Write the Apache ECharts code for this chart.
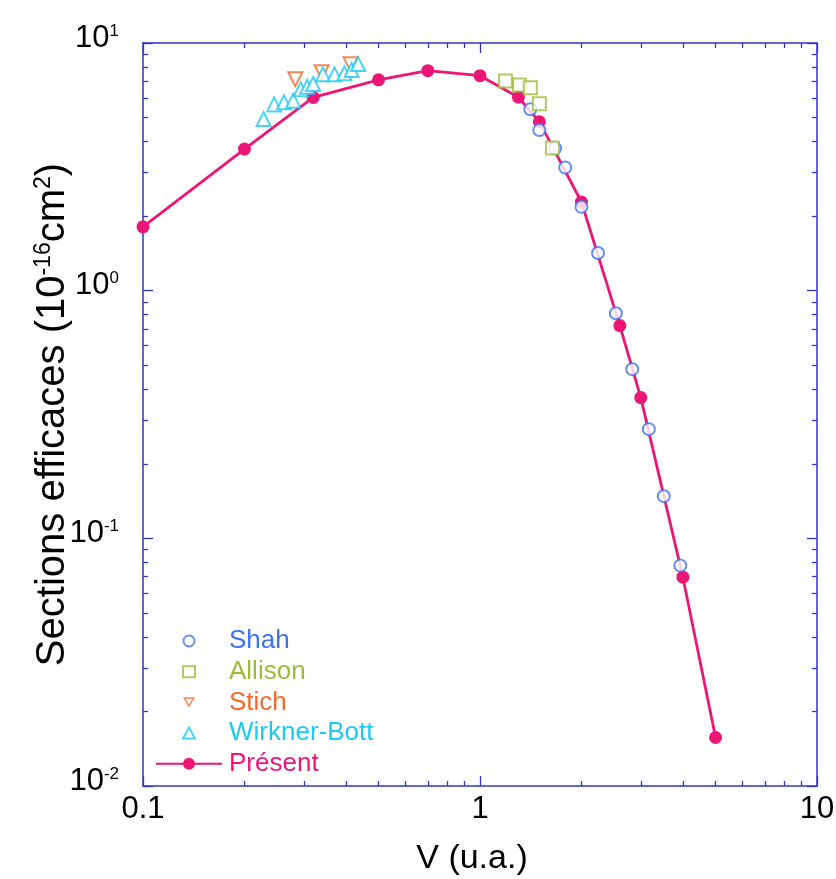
<!DOCTYPE html>
<html>
<head>
<meta charset="utf-8">
<script src="https://cdn.jsdelivr.net/npm/echarts@6/dist/echarts.min.js"></script>
<style>html,body{margin:0;padding:0;background:#fff;}#c{width:836px;height:879px;}</style>
</head>
<body>
<div id="c"></div>
<script>
// ---- data (V in u.a., cross sections in 1e-16 cm^2) ----
const presentV = [0.1, 0.2, 0.32, 0.5, 0.7, 1.0, 1.3, 1.5, 2.0, 2.6, 3.0, 4.0, 5.0];
const presentS = [1.81, 3.73, 6.03, 7.1, 7.73, 7.38, 6.04, 4.81, 2.28, 0.723, 0.370, 0.0697, 0.0157];

const shahV = [1.41, 1.50, 1.67, 1.79, 2.0, 2.24, 2.53, 2.83, 3.17, 3.51, 3.93];
const shahS = [5.40, 4.45, 3.76, 3.14, 2.18, 1.42, 0.811, 0.482, 0.276, 0.148, 0.0776];

const allisonV = [1.19, 1.31, 1.41, 1.50, 1.64];
const allisonS = [7.03, 6.77, 6.60, 5.69, 3.77];

const stichV = [0.283, 0.339, 0.413];
const stichS = [7.14, 7.62, 8.20];

const wirknerV = [0.228, 0.245, 0.262, 0.279, 0.294, 0.307, 0.320, 0.342, 0.370, 0.396, 0.416, 0.435];
const wirknerS = [4.93, 5.65, 5.76, 5.85, 6.50, 6.66, 6.83, 7.47, 7.47, 7.54, 7.78, 8.22];

const scatterNames = ['Shah', 'Allison', 'Stich', 'Wirkner-Bott'];
const lineName = 'Présent';
const seriesColors = ['#3d73ea', '#9dbb3a', '#f26a2a', '#1ec8f5', '#ec1677'];

const xMin = 0.1, xMax = 10, yMin = 0.01, yMax = 10;

function pairs(xs, ys) { return xs.map((x, i) => [x, ys[i]]); }

const axisColor = '#3333cc';
const FONT = 'Liberation Sans, Arial, sans-serif';
// outlined downward triangle for the legend (outer + reversed inner contour)
const DOWN_TRIANGLE_ICON = 'path://M0,0L20,0L10,17.32Z M4.33,2.5L10,12.32L15.67,2.5Z';

function logAxis(pos, showLabels, isX) {
  return {
    type: 'log', logBase: 10, position: pos, min: isX ? xMin : yMin, max: isX ? xMax : yMax,
    axisLine: { show: true, onZero: false, lineStyle: { color: axisColor, width: 1.5 } },
    axisTick: { show: true, inside: true, length: 10, lineStyle: { color: axisColor, width: 1.3 } },
    minorTick: { show: true, splitNumber: 9, length: 5, lineStyle: { color: axisColor, width: 1.3 } },
    splitLine: { show: false },
    minorSplitLine: { show: false },
    axisLabel: { show: showLabels }
  };
}

const xBottom = logAxis('bottom', true, true);
xBottom.axisLabel = {
  show: true, margin: 8, color: '#000', fontFamily: FONT, fontSize: 31,
  formatter: v => (v >= 1 ? String(Math.round(v)) : String(v))
};
xBottom.name = 'V (u.a.)';
xBottom.nameLocation = 'middle';
xBottom.nameGap = 56;
xBottom.nameMoveOverlap = false;
xBottom.nameTextStyle = { color: '#000', fontFamily: FONT, fontSize: 34, padding: [0, 16, 0, 0] };

const xTop = logAxis('top', false, true);

const yLeft = logAxis('left', true, false);
yLeft.axisLabel = {
  show: true, margin: 24, color: '#000', fontFamily: FONT,
  padding: [0, 0, 10, 0],
  formatter: v => '{b|10}{s|' + Math.round(Math.log10(v)) + '}',
  rich: {
    b: { fontSize: 31, lineHeight: 31, fontFamily: FONT, color: '#000' },
    s: { fontSize: 17, lineHeight: 17, verticalAlign: 'top', fontFamily: FONT, color: '#000' }
  }
};
yLeft.name = '{a|Sections efficaces (10}{s|-16}{a|cm}{s|2}{a|)}';
yLeft.nameLocation = 'middle';
yLeft.nameRotate = 90;
yLeft.nameGap = 69;
yLeft.nameMoveOverlap = false;
yLeft.nameTextStyle = {
  rich: {
    a: { fontSize: 40, lineHeight: 42, fontFamily: FONT, color: '#000' },
    s: { fontSize: 23, lineHeight: 23, verticalAlign: 'top', fontFamily: FONT, color: '#000' }
  }
};

const yRight = logAxis('right', false, false);

function scatterSeries(name, color, xs, ys, symbol, size, rotate) {
  return {
    name: name, type: 'scatter', xAxisIndex: 0, yAxisIndex: 0,
    data: pairs(xs, ys), symbol: symbol, symbolSize: size, symbolRotate: rotate || 0,
    itemStyle: { color: color, borderColor: color, borderWidth: 1.4 },
    z: 3
  };
}

const legendTop = 621, rowH = 30.7;

const option = {
  animation: false,
  backgroundColor: '#fff',
  grid: { left: 143, right: 19, top: 43, bottom: 93, containLabel: false, outerBoundsMode: 'none' },
  xAxis: [xBottom, xTop],
  yAxis: [yLeft, yRight],
  legend: [
    {
      orient: 'vertical', left: 177, top: legendTop,
      itemWidth: 12, itemHeight: 11, itemGap: rowH - 30,
      textStyle: { fontFamily: FONT, fontSize: 26, lineHeight: 30, padding: [0, 0, 0, 29] },
      data: scatterNames.map((n, i) => {
        const item = { name: n, textStyle: { color: seriesColors[i] } };
        if (n === 'Stich') {
          item.icon = DOWN_TRIANGLE_ICON;
          item.itemStyle = { color: seriesColors[i], borderWidth: 0 };
        }
        return item;
      })
    },
    {
      orient: 'vertical', left: 150, top: legendTop + 4 * rowH,
      itemWidth: 66, itemHeight: 15, itemGap: 0,
      textStyle: { fontFamily: FONT, fontSize: 26, lineHeight: 30, padding: [0, 0, 0, 2] },
      data: [{ name: lineName, textStyle: { color: seriesColors[4] } }]
    }
  ],
  series: [
    scatterSeries('Shah', seriesColors[0], shahV, shahS, 'emptyCircle', 12),
    scatterSeries('Allison', seriesColors[1], allisonV, allisonS, 'emptyRect', 13),
    scatterSeries('Stich', seriesColors[2], stichV, stichS, 'emptyTriangle', 14, 180),
    scatterSeries('Wirkner-Bott', seriesColors[3], wirknerV, wirknerS, 'emptyTriangle', 14),
    {
      name: lineName, type: 'line', xAxisIndex: 0, yAxisIndex: 0,
      data: pairs(presentV, presentS),
      symbol: 'circle', symbolSize: 13, showSymbol: true,
      lineStyle: { color: seriesColors[4], width: 2.8 },
      itemStyle: { color: seriesColors[4] },
      z: 2
    }
  ]
};

const chart = echarts.init(document.getElementById('c'), null, { renderer: 'canvas' });
chart.setOption(option);
</script>
</body>
</html>
